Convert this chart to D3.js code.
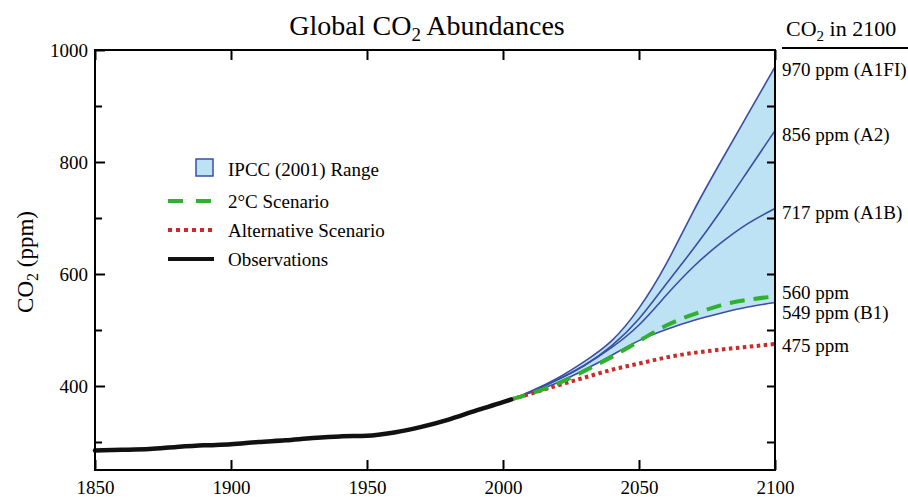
<!DOCTYPE html>
<html>
<head>
<meta charset="utf-8">
<script src="https://cdn.jsdelivr.net/npm/d3@7"></script>
<style>
  body { margin: 0; background: #fff; }
  svg { font-family: "Liberation Serif", "Times New Roman", serif; }
</style>
</head>
<body>
<div id="chart"></div>
<script>
// observed CO2 (ppm)
const obsYears  = [1850, 1860, 1870, 1880, 1890, 1900, 1910, 1920, 1930, 1940, 1950, 1960, 1970, 1980, 1990, 2000, 2003];
const obsValues = [285, 286, 287.5, 291, 294, 296, 300, 303, 307, 310, 311, 317, 327, 340, 356, 371, 376];

// projections
const projYears = [2003, 2010, 2020, 2030, 2040, 2050, 2060, 2070, 2080, 2090, 2100];
const a1fi   = [376, 390, 414, 444, 481, 539, 618, 712, 800, 885, 970];
const a2     = [376, 389, 411, 437, 472, 520, 582, 645, 712, 784, 856];
const a1b    = [376, 389, 411, 437, 469, 509, 562, 613, 655, 690, 717];
const b1     = [376, 388, 406, 429, 455, 481, 501, 517, 530, 541, 549];
const twoDeg = [376, 386, 404, 427, 452, 480, 508, 528, 544, 554, 560];
const altScn = [376, 386, 401, 415, 429, 440, 451, 459, 465, 470, 475];

const endLabels = [
  { text: '970 ppm (A1FI)', value: 970, dy: 9 },
  { text: '856 ppm (A2)', value: 856, dy: 10 },
  { text: '717 ppm (A1B)', value: 717, dy: 11 },
  { text: '560 ppm', value: 560, dy: 3 },
  { text: '549 ppm (B1)', value: 549, dy: 16 },
  { text: '475 ppm', value: 475, dy: 8 }
];

const xTicks = [1850, 1900, 1950, 2000, 2050, 2100];
const yMajor = [400, 600, 800, 1000];
const yMinor = [300, 500, 700, 900];
const yRight = [300, 400, 500, 600, 700, 800, 900];

const width = 908, height = 497;
const margin = { top: 50, right: 133, bottom: 27, left: 95 };
const innerW = width - margin.left - margin.right;
const innerH = height - margin.top - margin.bottom;

const fillBlue = '#bce2f4';
const lineBlue = '#3b4ea3';
const green = '#2fb02f';
const red = '#cc2a2a';

const svg = d3.select('#chart')
  .append('svg')
  .attr('width', width)
  .attr('height', height);

const g = svg.append('g')
  .attr('transform', `translate(${margin.left},${margin.top})`);

const x = d3.scaleLinear().domain([1850, 2100]).range([0, innerW]);
const y = d3.scaleLinear().domain([250, 1000]).range([innerH, 0]);

const proj = arr => projYears.map((yr, i) => ({ year: yr, value: arr[i] }));

const line = d3.line()
  .x(d => x(d.year))
  .y(d => y(d.value))
  .curve(d3.curveNatural);

const obsLine = d3.line()
  .x(d => x(d.year))
  .y(d => y(d.value))
  .curve(d3.curveMonotoneX);

const band = d3.area()
  .x(d => x(d.year))
  .y0(d => y(d.lo))
  .y1(d => y(d.hi))
  .curve(d3.curveNatural);

// IPCC range
g.append('path')
  .datum(projYears.map((yr, i) => ({ year: yr, lo: b1[i], hi: a1fi[i] })))
  .attr('d', band)
  .attr('fill', fillBlue);

[a1fi, a2, a1b, b1].forEach(s => {
  g.append('path')
    .datum(proj(s))
    .attr('d', line)
    .attr('fill', 'none')
    .attr('stroke', lineBlue)
    .attr('stroke-width', 1.6);
});

g.append('path')
  .datum(proj(altScn))
  .attr('d', line)
  .attr('fill', 'none')
  .attr('stroke', red)
  .attr('stroke-width', 4)
  .attr('stroke-dasharray', '3.5,3.5');

g.append('path')
  .datum(proj(twoDeg))
  .attr('d', line)
  .attr('fill', 'none')
  .attr('stroke', green)
  .attr('stroke-width', 4)
  .attr('stroke-dasharray', '15,9');

g.append('path')
  .datum(obsYears.map((yr, i) => ({ year: yr, value: obsValues[i] })))
  .attr('d', obsLine)
  .attr('fill', 'none')
  .attr('stroke', '#111')
  .attr('stroke-width', 4.5)
  .attr('stroke-linecap', 'round');

// axes, ticks pointing inward
const noLabel = () => '';

g.append('g')
  .attr('class', 'axis')
  .call(d3.axisLeft(y).tickValues(yMajor).tickSize(-10).tickPadding(7).tickFormat(d3.format('d')));
g.append('g')
  .attr('class', 'axis')
  .call(d3.axisLeft(y).tickValues(yMinor).tickSize(-7).tickFormat(noLabel));
g.append('g')
  .attr('class', 'axis')
  .attr('transform', `translate(${innerW},0)`)
  .call(d3.axisRight(y).tickValues(yRight).tickSize(-8).tickFormat(noLabel));
g.append('g')
  .attr('class', 'axis')
  .attr('transform', `translate(0,${innerH})`)
  .call(d3.axisBottom(x).tickValues(xTicks).tickSize(-10).tickPadding(11).tickFormat(d3.format('d')));
g.append('g')
  .attr('class', 'axis')
  .call(d3.axisTop(x).tickValues(xTicks).tickSize(-10).tickFormat(noLabel));

g.selectAll('.axis .domain').remove();
g.selectAll('.axis line').attr('stroke', '#000').attr('stroke-width', 2);
g.selectAll('.axis text')
  .attr('fill', '#000')
  .style('font-family', '"Liberation Serif", "Times New Roman", serif')
  .style('font-size', '19px');

g.append('rect')
  .attr('width', innerW)
  .attr('height', innerH)
  .attr('fill', 'none')
  .attr('stroke', '#000')
  .attr('stroke-width', 2);

// end-of-century labels
g.selectAll('.end-label')
  .data(endLabels)
  .join('text')
  .attr('class', 'end-label')
  .attr('x', innerW + 7)
  .attr('y', d => y(d.value) + d.dy)
  .style('font-size', '19px')
  .text(d => d.text);

// title
const title = svg.append('text')
  .attr('x', 427)
  .attr('y', 35)
  .attr('text-anchor', 'middle')
  .style('font-size', '28px');
title.append('tspan').text('Global CO');
title.append('tspan').attr('dy', 6).style('font-size', '19px').text('2');
title.append('tspan').attr('dy', -6).text(' Abundances');

const head = svg.append('text')
  .attr('x', 786)
  .attr('y', 36)
  .style('font-size', '22px');
head.append('tspan').text('CO');
head.append('tspan').attr('dy', 5).style('font-size', '15px').text('2');
head.append('tspan').attr('dy', -5).text(' in 2100');

svg.append('line')
  .attr('x1', 782).attr('x2', 908)
  .attr('y1', 48).attr('y2', 48)
  .attr('stroke', '#000')
  .attr('stroke-width', 2);

// y axis title
const yTitle = svg.append('text')
  .attr('transform', 'translate(33,262) rotate(-90)')
  .attr('text-anchor', 'middle')
  .style('font-size', '23px');
yTitle.append('tspan').text('CO');
yTitle.append('tspan').attr('dy', 5).style('font-size', '16px').text('2');
yTitle.append('tspan').attr('dy', -5).text(' (ppm)');

// legend
const legendItems = [
  { label: 'IPCC (2001) Range', type: 'rect', y: 176 },
  { label: '2°C Scenario', type: 'dash', y: 208 },
  { label: 'Alternative Scenario', type: 'dot', y: 237 },
  { label: 'Observations', type: 'solid', y: 266 }
];

const legend = svg.append('g').attr('class', 'legend');

legendItems.forEach(item => {
  const row = legend.append('g').attr('transform', `translate(0,${item.y})`);
  if (item.type === 'rect') {
    row.append('rect')
      .attr('x', 196).attr('y', -17)
      .attr('width', 17).attr('height', 17)
      .attr('fill', fillBlue)
      .attr('stroke', lineBlue)
      .attr('stroke-width', 1.5);
  } else {
    const l = row.append('line')
      .attr('x1', 168).attr('x2', 214)
      .attr('y1', -7).attr('y2', -7)
      .attr('stroke-width', 4);
    if (item.type === 'dash') l.attr('stroke', green).attr('stroke-dasharray', '15,13');
    if (item.type === 'dot') l.attr('stroke', red).attr('stroke-dasharray', '4,4');
    if (item.type === 'solid') l.attr('stroke', '#111');
  }
  row.append('text')
    .attr('x', 228)
    .style('font-size', '19px')
    .text(item.label);
});
</script>
</body>
</html>
